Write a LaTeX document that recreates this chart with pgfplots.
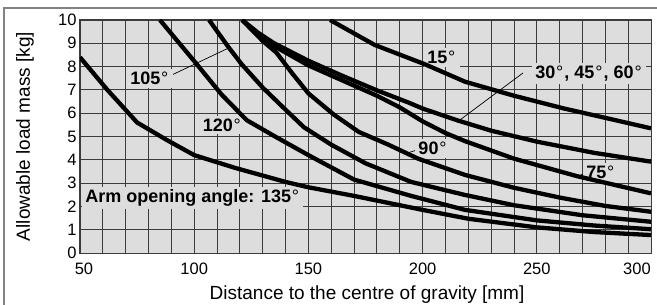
\documentclass[border=0pt]{standalone}
\usepackage{pgfplots}
\pgfplotsset{compat=1.18}
\usepackage{fontspec}
\setmainfont{Liberation Sans}
\definecolor{bg}{RGB}{221,221,221}
\definecolor{gridc}{RGB}{60,60,60}
\definecolor{framec}{RGB}{130,130,130}
\newcommand{\lab}{\fontsize{18bp}{20bp}\selectfont\bfseries}
\newcommand{\dg}{\kern0.8bp{\mdseries °}\kern1.2bp}
\begin{document}
\begin{tikzpicture}
\begin{axis}[
  at={(0,0)}, anchor=south west,
  scale only axis, width=571bp, height=233bp,
  xmin=50, xmax=300, ymin=0, ymax=10,
  xtick={50,100,150,200,250,300},
  xticklabels={{\hspace*{8bp}50},100,150,200,250,{\hspace*{-28bp}300}},
  minor xtick={60,70,80,90,110,120,130,140,160,170,180,190,210,220,230,240,260,270,280,290},
  ytick={0,1,2,3,4,5,6,7,8,9,10},
  grid=both,
  major grid style={draw=gridc, line width=0.9bp},
  minor grid style={draw=gridc, line width=0.9bp},
  major tick length=0pt, minor tick length=0pt,
  axis background/.style={fill=bg},
  axis line style={draw=gridc, line width=1bp},
  tick label style={font=\fontsize{16.5bp}{18bp}\selectfont},
  xticklabel style={yshift=-6bp},
  /pgf/number format/assume math mode=true,
  curve/.style={black, solid, no markers, line width=4.3bp, line join=round, line cap=butt},
]
% labels (fill covers grid)
\draw[line width=0.7bp] (axis cs:88.7,7.57) -- (axis cs:114.9,8.79);
\draw[line width=0.7bp] (axis cs:244,7.73) -- (axis cs:215.1,5.62);
\draw[line width=0.7bp] (axis cs:271.1,3.42) -- (axis cs:267.4,3.27);
\draw[line width=0.7bp] (axis cs:197.5,4.42) -- (axis cs:193.6,4.3);
\node[fill=bg, inner sep=3bp] at (axis cs:80.6,7.49) {\lab 105\dg};
\node[fill=bg, inner sep=3bp] at (axis cs:112.4,5.49) {\lab 120\dg};
\node[fill=bg, inner sep=3bp] at (axis cs:208.5,8.38) {\lab 15\dg};
\node[fill=bg, inner sep=3bp] at (axis cs:272.9,7.7) {\lab 30\dg, 45\dg, 60\dg};
\node[fill=bg, inner sep=3bp] at (axis cs:204.6,4.49) {\lab 90\dg};
\node[fill=bg, inner sep=3bp] at (axis cs:278.1,3.45) {\lab 75\dg};
\node[fill=bg, inner sep=3bp, anchor=west] at (axis cs:51,2.36) {\lab Arm opening angle: 135\dg};
% 15 deg
\addplot[curve] coordinates {(159.5,10) (179,8.93) (201,8.1) (218.6,7.35) (240,6.75) (262,6.2) (280,5.8) (300,5.35)};
% 30, 45, 60 deg
\addplot[curve] coordinates {(121,10) (128,9.45) (135,9.0) (150,8.25) (165,7.6) (180,6.98) (194,6.45) (200,6.2) (215,5.7) (230,5.25) (250,4.78) (275,4.3) (300,3.92)};
% 75 deg
\addplot[curve] coordinates {(121,10) (128,9.38) (135,8.88) (150,8.05) (165,7.4) (180,6.75) (190,6.25) (200,5.65) (210,5.15) (218.6,4.8) (240,4.05) (267.5,3.3) (300,2.56)};
% 90 deg
\addplot[curve] coordinates {(121,10) (130,9.1) (136,8.6) (143,7.7) (150,6.85) (161,5.95) (172,5.2) (185,4.65) (198,4.05) (218.6,3.35) (240,2.8) (260,2.38) (280,2.02) (300,1.77)};
% 105 deg
\addplot[curve] coordinates {(106.5,10) (114.9,8.85) (120.8,8.1) (130,7.1) (140,6.15) (148,5.4) (160,4.65) (175,3.85) (195,3.05) (218.6,2.49) (240,2.05) (270,1.62) (300,1.34)};
% 120 deg
\addplot[curve] coordinates {(85,10) (100.3,8.2) (112,6.8) (123,5.7) (135.4,5.0) (150,4.2) (170,3.15) (195,2.45) (218.6,1.85) (250,1.4) (275,1.18) (300,1.02)};
% 135 deg
\addplot[curve] coordinates {(50,8.4) (62,7.0) (75,5.6) (88,4.85) (100,4.2) (118,3.65) (140,3.05) (150,2.82) (170,2.45) (200,1.85) (220,1.47) (250,1.1) (275,0.9) (300,0.77)};
\end{axis}
\node[rotate=90, font=\fontsize{19bp}{21bp}\selectfont] at (-55bp,116.5bp) {Allowable load mass [kg]};
\node[font=\fontsize{19bp}{21bp}\selectfont] at (287bp,-42bp) {Distance to the centre of gravity [mm]};
\draw[framec, line width=1.5bp] (-76bp,-60bp) rectangle (585bp,245bp);
\pgfresetboundingbox
\useasboundingbox (-80bp,-52bp) rectangle (577bp,253bp);
\end{tikzpicture}
\end{document}
